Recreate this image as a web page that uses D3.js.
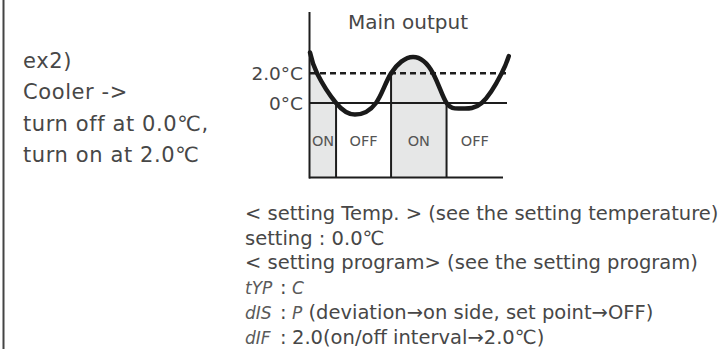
<!DOCTYPE html>
<html>
<head>
<meta charset="utf-8">
<script src="https://cdn.jsdelivr.net/npm/d3@7"></script>
<style>
  html, body { margin: 0; padding: 0; background: #fff; }
  svg { display: block; }
  text { font-family: "DejaVu Sans", sans-serif; fill: #474747; }
</style>
</head>
<body>
<svg id="chart" width="725" height="349"></svg>
<script>
// ---- data ----
const timePoints = [0, 0.73, 2.7, 4.66, 6.84, 8.4, 10.67, 12.75, 14.15, 15.65, 17.79, 19.86, 20.6];
const tempPoints = [3.4, 2.0, 0.0, -0.78, 0.0, 2.0, 3.1, 2.0, 0.0, -0.37, 0.0, 2.0, 3.16];
const thresholds = [0, 2.0];
const thresholdLabels = ["0°C", "2.0°C"];
const switchTimes = [2.7, 8.4, 14.15];
const switchTemps = [0, 2.0, 0];
const stateBounds = [0, 2.7, 8.4, 14.15, 20];
const stateLabels = ["ON", "OFF", "ON", "OFF"];
const stateOn = [true, false, true, false];
const chartTitle = "Main output";
const sideLines = ["ex2)", "Cooler ->", "turn off at 0.0℃,", "turn on at 2.0℃"];
const noteCodes = ["", "", "", "tYP", "dIS", "dIF"];
const noteValueCodes = ["", "", "", "C", "P", ""];
const noteLines = [
  "< setting Temp. > (see the setting temperature)",
  "setting : 0.0℃",
  "< setting program> (see the setting program)",
  "",
  " (deviation→on side, set point→OFF)",
  "2.0(on/off interval→2.0℃)"
];

// ---- layout ----
const svg = d3.select("#chart");
const x = d3.scaleLinear().domain([0, 20]).range([310, 503]);
const y = d3.scaleLinear().domain([-5.02, 6.13]).range([177.5, 12]);

// left border
svg.append("line").attr("x1", 3.5).attr("x2", 3.5).attr("y1", 0).attr("y2", 349)
  .attr("stroke", "#444").attr("stroke-width", 2);

// side text
svg.append("g").selectAll("text").data(sideLines).join("text")
  .attr("x", 23).attr("y", (d, i) => 68 + i * 31.3)
  .attr("font-size", 21).attr("letter-spacing", 0.6).text(d => d);

// shading under curve for ON states
const defs = svg.append("defs");
stateOn.forEach((on, i) => {
  if (!on) return;
  defs.append("clipPath").attr("id", "clip" + i).append("rect")
    .attr("x", x(stateBounds[i])).attr("width", x(stateBounds[i + 1]) - x(stateBounds[i]))
    .attr("y", 0).attr("height", 349);
});
const pts = timePoints.map((t, i) => [t, tempPoints[i]]);
const curveType = d3.curveNatural;
const area = d3.area().x(d => x(d[0])).y0(y(-5.02)).y1(d => y(d[1])).curve(curveType);
stateOn.forEach((on, i) => {
  if (!on) return;
  svg.append("path").attr("d", area(pts)).attr("fill", "#e6e7e7")
    .attr("clip-path", `url(#clip${i})`);
});

// threshold lines
svg.append("line").attr("x1", x(0)).attr("x2", 507).attr("y1", y(thresholds[0])).attr("y2", y(thresholds[0]))
  .attr("stroke", "#1d1d1d").attr("stroke-width", 2);
svg.append("line").attr("x1", x(0)).attr("x2", 507).attr("y1", y(thresholds[1])).attr("y2", y(thresholds[1]))
  .attr("stroke", "#1d1d1d").attr("stroke-width", 2.5).attr("stroke-dasharray", "6,4");

// switch verticals
svg.append("g").selectAll("line").data(switchTimes).join("line")
  .attr("x1", d => x(d)).attr("x2", d => x(d))
  .attr("y1", y(-5.02)).attr("y2", (d, i) => y(switchTemps[i]))
  .attr("stroke", "#1d1d1d").attr("stroke-width", 2);

// bottom line & y axis line
svg.append("line").attr("x1", x(0) - 1).attr("x2", 503).attr("y1", y(-5.02)).attr("y2", y(-5.02))
  .attr("stroke", "#1d1d1d").attr("stroke-width", 2);
svg.append("line").attr("x1", x(0) - 0.5).attr("x2", x(0) - 0.5).attr("y1", 12).attr("y2", y(-5.02) + 1)
  .attr("stroke", "#1d1d1d").attr("stroke-width", 2);

// y tick labels via axis
const yAxis = d3.axisLeft(y).tickValues(thresholds)
  .tickFormat((d, i) => thresholdLabels[i]).tickSize(0).tickPadding(7);
const ga = svg.append("g").attr("transform", `translate(${x(0)},0)`).call(yAxis);
ga.select(".domain").remove();
ga.selectAll("text").attr("font-family", "DejaVu Sans").attr("font-size", 18.5)
  .style("fill", "#474747").attr("dy", "0.36em");

// curve
const line = d3.line().x(d => x(d[0])).y(d => y(d[1])).curve(curveType);
svg.append("path").attr("d", line(pts)).attr("fill", "none")
  .attr("stroke", "#1a1a1a").attr("stroke-width", 4.5).attr("stroke-linecap", "round");

// state labels
svg.append("g").selectAll("text").data(stateLabels).join("text")
  .attr("x", (d, i) => (x(stateBounds[i]) + x(stateBounds[i + 1])) / 2)
  .attr("y", 146).attr("text-anchor", "middle").attr("font-size", 14.5)
  .style("fill", "#555").text(d => d);

// title
svg.append("text").attr("x", 348).attr("y", 29).attr("font-size", 20).text(chartTitle);

// notes
const fs = 19.5;
noteLines.forEach((t, i) => {
  const by = 220 + i * 24.7;
  if (noteCodes[i]) {
    svg.append("text").attr("x", 245).attr("y", by).attr("font-size", 17)
      .attr("font-style", "italic").style("fill", "#5a5a5a").text(noteCodes[i]);
    svg.append("text").attr("x", 280).attr("y", by).attr("font-size", fs).text(":");
    const tx = svg.append("text").attr("x", 292).attr("y", by).attr("font-size", fs);
    if (noteValueCodes[i]) {
      tx.append("tspan").attr("font-style", "italic").attr("font-size", 17).style("fill", "#5a5a5a").text(noteValueCodes[i]);
    }
    tx.append("tspan").text(t);
  } else {
    svg.append("text").attr("x", 245).attr("y", by).attr("font-size", fs).text(t);
  }
});
</script>
</body>
</html>
